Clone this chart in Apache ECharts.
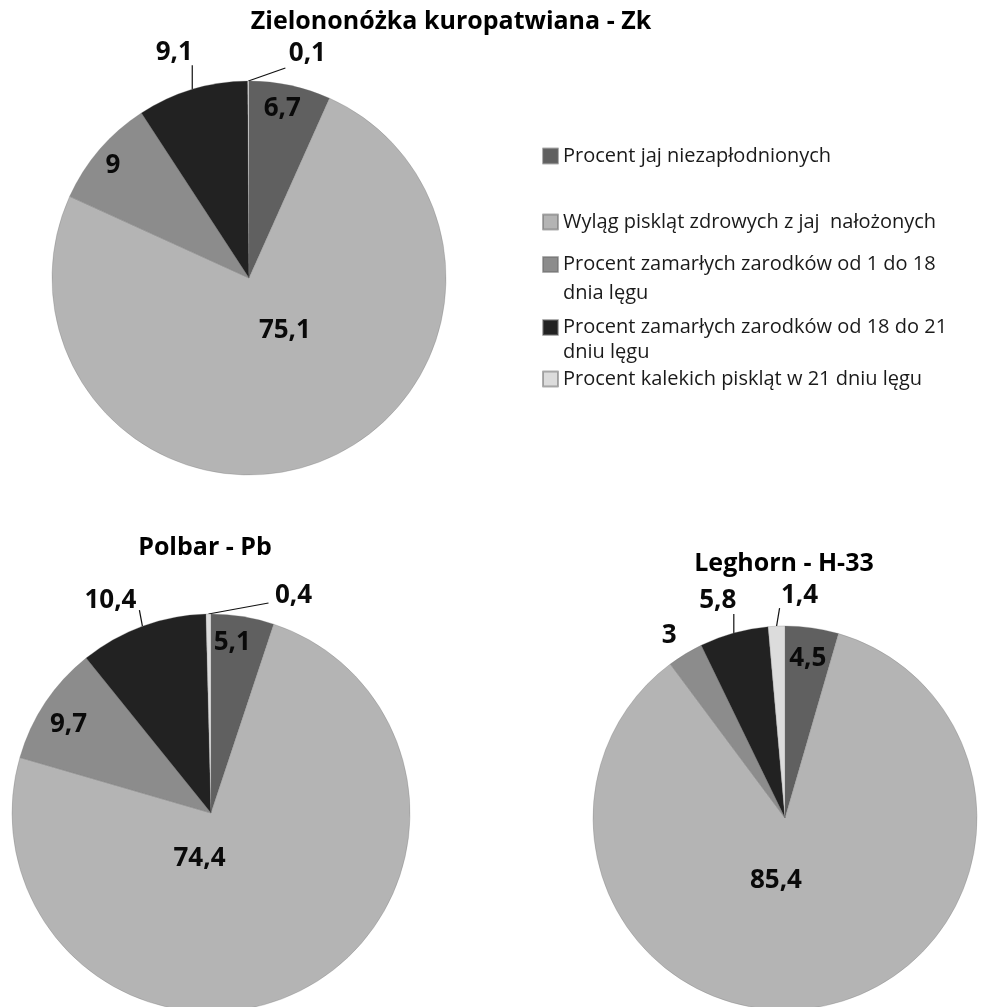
<!DOCTYPE html>
<html>
<head>
<meta charset="utf-8">
<script src="https://cdn.jsdelivr.net/npm/echarts@6/dist/echarts.min.js"></script>
<style>
  html, body { margin: 0; padding: 0; background: #ffffff; }
  #chart { width: 981px; height: 1007px; }
</style>
</head>
<body>
<div id="chart"></div>
<script>
// Slice categories (shared by all three pies and the legend)
const categories = [
  'Procent jaj niezapłodnionych',
  'Wyląg piskląt zdrowych z jaj  nałożonych',
  'Procent zamarłych zarodków od 1 do 18\ndnia lęgu',
  'Procent zamarłych zarodków od 18 do 21\ndniu lęgu',
  'Procent kalekich piskląt w 21 dniu lęgu'
];

// Percent values per breed
const valuesZk = [6.7, 75.1, 9, 9.1, 0.1];
const valuesPb = [5.1, 74.4, 9.7, 10.4, 0.4];
const valuesH33 = [4.5, 85.4, 3, 5.8, 1.4];

const pieTitles = ['Zielononóżka kuropatwiana - Zk', 'Polbar - Pb', 'Leghorn - H-33'];

const sliceColors = ['#606060', '#b4b4b4', '#8c8c8c', '#222222', '#dcdcdc'];

// Pie geometry and label placement.
// inside: radial fraction for the label, nudge: small pixel shift
// line: leader line vector from the rim, text: label offset from the line end
const pies = [
  {
    values: valuesZk, title: pieTitles[0], titleAt: [451, 22],
    center: [249, 278], radius: 197,
    labels: [
      { inside: 0.88, nudge: [-3, 0] },
      { inside: 0.30, nudge: [15, -3] },
      { inside: 0.89, nudge: [-3, 2] },
      { line: [0, -24], text: [-18, -13], showLine: true },
      { line: [37, -13], text: [22, -14], showLine: true }
    ]
  },
  {
    values: valuesPb, title: pieTitles[1], titleAt: [205, 548],
    center: [211, 813], radius: 199,
    labels: [
      { inside: 0.86, nudge: [-6, -1] },
      { inside: 0.20, nudge: [-30, 10] },
      { inside: 0.86, nudge: [0, 6] },
      { line: [-3, -16], text: [-29, -10], showLine: true },
      { line: [60, -11], text: [25, -7], showLine: true }
    ]
  },
  {
    values: valuesH33, title: pieTitles[2], titleAt: [784, 564],
    center: [785, 818], radius: 192,
    labels: [
      { inside: 0.84, nudge: [0, 0] },
      { inside: 0.32, nudge: [-20, 2] },
      { line: [0, 0], text: [-16, -18], showLine: false },
      { line: [0, -19], text: [-16, -13], showLine: true },
      { line: [3, -18], text: [20, -13], showLine: true }
    ]
  }
];

// Unit vector towards the middle of slice i (clockwise from 12 o'clock)
function sliceDirection(values, i) {
  const total = values.reduce((a, b) => a + b, 0);
  let before = 0;
  for (let k = 0; k < i; k++) before += values[k];
  const mid = (before + values[i] / 2) / total * Math.PI * 2;
  return [Math.sin(mid), -Math.cos(mid)];
}

const FONT = '"Open Sans", Lato, sans-serif';

function formatValue(v) {
  return String(v).replace('.', ',');
}

const series = pies.map(function (pie) {
  return {
    type: 'pie',
    center: pie.center,
    radius: pie.radius,
    startAngle: 90,
    clockwise: true,
    avoidLabelOverlap: false,
    silent: true,
    animation: false,
    itemStyle: { borderColor: 'rgba(110,110,110,0.55)', borderWidth: 0.5 },
    label: {
      show: true,
      formatter: function (p) { return formatValue(p.value); },
      fontFamily: FONT,
      fontWeight: 'bold',
      fontSize: 26,
      color: '#0a0a0a'
    },
    labelLine: {
      length: 10,
      length2: 0,
      lineStyle: { color: '#111111', width: 1.2 }
    },
    emphasis: { disabled: true },
    data: pie.values.map(function (v, i) {
      const spec = pie.labels[i];
      const isInside = spec.inside != null;
      return {
        name: categories[i],
        value: v,
        itemStyle: { color: sliceColors[i] },
        label: { position: isInside ? 'inside' : 'outside' },
        labelLine: { show: !isInside && spec.showLine }
      };
    }),
    labelLayout: function (params) {
      const spec = pie.labels[params.dataIndex];
      const dir = sliceDirection(pie.values, params.dataIndex);
      const cx = pie.center[0], cy = pie.center[1], r = pie.radius;
      if (spec.inside != null) {
        return {
          x: cx + dir[0] * r * spec.inside + spec.nudge[0],
          y: cy + dir[1] * r * spec.inside + spec.nudge[1],
          align: 'center',
          verticalAlign: 'middle'
        };
      }
      const p0 = [cx + dir[0] * r, cy + dir[1] * r];
      const p1 = [p0[0] + spec.line[0], p0[1] + spec.line[1]];
      return {
        x: p1[0] + spec.text[0],
        y: p1[1] + spec.text[1],
        align: 'center',
        verticalAlign: 'middle',
        labelLinePoints: [p0, p1, p1]
      };
    }
  };
});

// One legend block per entry, so spacing can follow the original layout.
// Wrapped entries get an empty leading line so the swatch sits on the first line.
const legendTops = [143, 209, 221, 290, 366];
const legendLineHeights = [26, 26, 29, 25, 26];
const legends = categories.map(function (name, i) {
  const twoLines = name.indexOf('\n') >= 0;
  return {
    data: [name],
    left: 542,
    top: legendTops[i],
    orient: 'vertical',
    icon: 'rect',
    itemWidth: 15,
    itemHeight: 15,
    padding: 0,
    selectedMode: false,
    formatter: function (n) { return twoLines ? '\n' + n : n; },
    textStyle: {
      fontFamily: FONT,
      fontSize: 20,
      color: '#1a1a1a',
      lineHeight: legendLineHeights[i]
    }
  };
});

const titleGraphics = pies.map(function (pie) {
  return {
    type: 'text',
    x: pie.titleAt[0],
    y: pie.titleAt[1],
    silent: true,
    style: {
      text: pie.title,
      fontFamily: FONT,
      fontWeight: 'bold',
      fontSize: 25,
      fill: '#000000',
      align: 'center',
      verticalAlign: 'middle'
    }
  };
});

const chart = echarts.init(document.getElementById('chart'), null, { renderer: 'canvas' });
chart.setOption({
  backgroundColor: '#ffffff',
  animation: false,
  legend: legends,
  graphic: titleGraphics,
  series: series
});
</script>
</body>
</html>
